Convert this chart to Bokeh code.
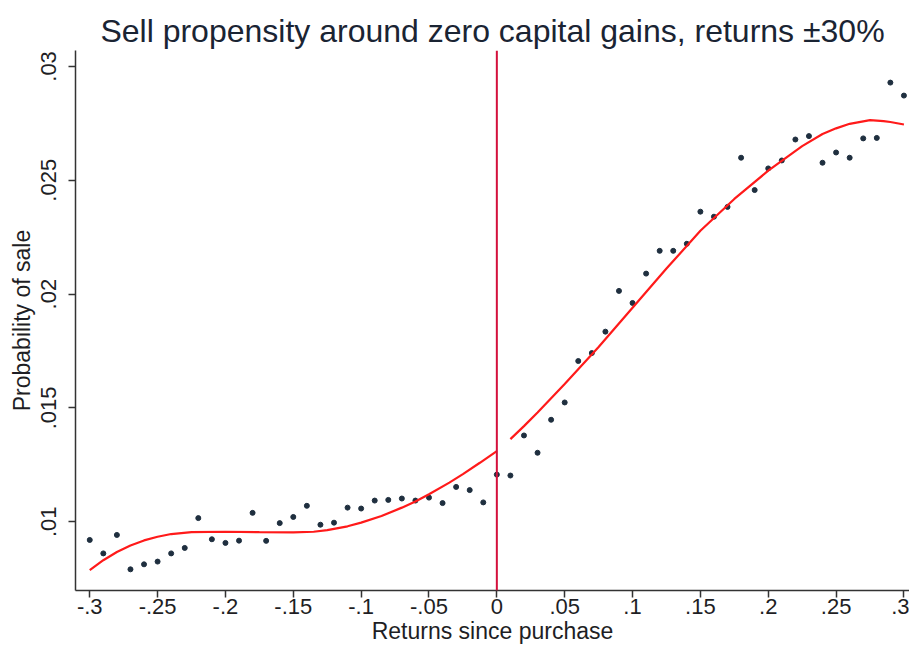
from bokeh.plotting import figure
from bokeh.models import Range1d, FixedTicker, Span
from bokeh.embed import file_html
from bokeh.resources import INLINE

# ---- data ----
returns = [-0.30, -0.29, -0.28, -0.27, -0.26, -0.25, -0.24, -0.23, -0.22, -0.21,
           -0.20, -0.19, -0.18, -0.17, -0.16, -0.15, -0.14, -0.13, -0.12, -0.11,
           -0.10, -0.09, -0.08, -0.07, -0.06, -0.05, -0.04, -0.03, -0.02, -0.01,
           0.00, 0.01, 0.02, 0.03, 0.04, 0.05, 0.06, 0.07, 0.08, 0.09,
           0.10, 0.11, 0.12, 0.13, 0.14, 0.15, 0.16, 0.17, 0.18, 0.19,
           0.20, 0.21, 0.22, 0.23, 0.24, 0.25, 0.26, 0.27, 0.28, 0.29, 0.30]
prob_sale = [0.00920, 0.00861, 0.00942, 0.00791, 0.00813, 0.00825, 0.00861, 0.00885, 0.01016, 0.00923,
             0.00907, 0.00917, 0.01039, 0.00916, 0.00994, 0.01021, 0.01070, 0.00987, 0.00996, 0.01062,
             0.01058, 0.01093, 0.01096, 0.01102, 0.01093, 0.01106, 0.01082, 0.01153, 0.01139, 0.01085,
             0.01207, 0.01203, 0.01379, 0.01303, 0.01448, 0.01524, 0.01706, 0.01741, 0.01835, 0.02014,
             0.01961, 0.02090, 0.02190, 0.02190, 0.02221, 0.02362, 0.02340, 0.02383, 0.02599, 0.02457,
             0.02552, 0.02587, 0.02679, 0.02694, 0.02577, 0.02622, 0.02599, 0.02684, 0.02686, 0.02929, 0.02872]

fit_left_x = [-0.30, -0.29, -0.28, -0.27, -0.26, -0.25, -0.24, -0.225, -0.20, -0.175,
              -0.15, -0.135, -0.125, -0.11, -0.10, -0.085, -0.07, -0.06, -0.05, -0.035,
              -0.025, -0.0125, 0.0]
fit_left_y = [0.00787, 0.00831, 0.00867, 0.00896, 0.00918, 0.00934, 0.00946, 0.00954, 0.00956, 0.00954,
              0.00953, 0.00956, 0.00963, 0.00980, 0.00996, 0.01025, 0.01062, 0.01089, 0.01121, 0.01172,
              0.01209, 0.01259, 0.01310]

fit_right_x = [0.01, 0.02, 0.03, 0.05, 0.075, 0.10, 0.125, 0.15, 0.175, 0.20,
               0.225, 0.24, 0.25, 0.26, 0.275, 0.285, 0.29, 0.30]
fit_right_y = [0.01363, 0.01420, 0.01480, 0.01605, 0.01768, 0.01940, 0.02112, 0.02278, 0.02418, 0.02542,
               0.02650, 0.02703, 0.02728, 0.02748, 0.02764, 0.02760, 0.02756, 0.02745]

x_ticks = [-0.3, -0.25, -0.2, -0.15, -0.1, -0.05, 0.0, 0.05, 0.1, 0.15, 0.2, 0.25, 0.3]
x_tick_labels = ["-.3", "-.25", "-.2", "-.15", "-.1", "-.05", "0", ".05", ".1", ".15", ".2", ".25", ".3"]
y_ticks = [0.01, 0.015, 0.02, 0.025, 0.03]
y_tick_labels = [".01", ".015", ".02", ".025", ".03"]

FONT = "Liberation Sans"
TEXT = "#1e1e24"

p = figure(width=909, height=646, output_backend="svg", toolbar_location=None,
           x_range=Range1d(-0.3105, 0.3041), y_range=Range1d(0.00698, 0.0307),
           title="Sell propensity around zero capital gains, returns \u00b130%",
           min_border_left=75, min_border_right=0, min_border_top=50, min_border_bottom=54)

p.title.text_font = FONT
p.title.text_font_size = "32px"
p.title.text_font_style = "normal"
p.title.text_color = "#1a2433"
p.title.align = "center"
p.title.standoff = 4

p.outline_line_color = None
p.background_fill_color = "white"
p.border_fill_color = "white"
p.xgrid.visible = False
p.ygrid.visible = False

p.xaxis.ticker = FixedTicker(ticks=x_ticks)
p.xaxis.major_label_overrides = dict(zip(x_ticks, x_tick_labels))
p.yaxis.ticker = FixedTicker(ticks=y_ticks)
p.yaxis.major_label_overrides = dict(zip(y_ticks, y_tick_labels))
p.yaxis.major_label_orientation = "vertical"

p.xaxis.axis_label = "Returns since purchase"
p.yaxis.axis_label = "Probability of sale"

for ax in (p.xaxis, p.yaxis):
    ax.axis_line_color = "#333333"
    ax.axis_line_width = 1.5
    ax.major_tick_line_color = "#333333"
    ax.major_tick_line_width = 1.5
    ax.major_tick_in = 0
    ax.major_tick_out = 7
    ax.minor_tick_line_color = None
    ax.major_label_text_font = FONT
    ax.major_label_text_color = TEXT
    ax.axis_label_text_font = FONT
    ax.axis_label_text_font_size = "23px"
    ax.axis_label_text_font_style = "normal"
    ax.axis_label_text_color = TEXT

p.xaxis.major_label_text_font_size = "22px"
p.yaxis.major_label_text_font_size = "22px"
p.xaxis.major_label_standoff = 1
p.xaxis.axis_label_standoff = 1
p.yaxis.major_label_standoff = 12
p.yaxis.axis_label_standoff = 4

p.scatter(returns, prob_sale, size=5, color="#1f2f3f", marker="circle")
p.line(fit_left_x, fit_left_y, line_color="#ff1a1a", line_width=2.2)
p.line(fit_right_x, fit_right_y, line_color="#ff1a1a", line_width=2.2)

p.add_layout(Span(location=0, dimension="height", line_color="#d4103c", line_width=2))

open("out.html", "w").write(file_html(p, INLINE))
